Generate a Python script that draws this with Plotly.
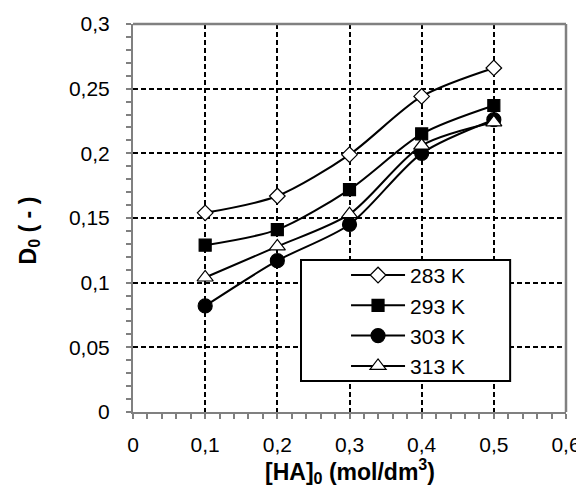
import plotly.graph_objects as go

ha0 = [0.1, 0.2, 0.3, 0.4, 0.5]
d_283 = [0.154, 0.167, 0.199, 0.244, 0.266]
d_293 = [0.129, 0.141, 0.172, 0.215, 0.237]
d_303 = [0.082, 0.117, 0.145, 0.200, 0.226]
d_313 = [0.104, 0.128, 0.153, 0.206, 0.224]

series = [
    ("283 K", d_283, "diamond", "white", 12),
    ("293 K", d_293, "square", "black", 12),
    ("303 K", d_303, "circle", "black", 14),
    ("313 K", d_313, "triangle-up", "white", 14),
]

FONT = "Liberation Sans, Arial, sans-serif"
GRAY = "#808080"

fig = go.Figure()
for name, vals, sym, fill, size in series:
    fig.add_trace(go.Scatter(
        x=ha0, y=vals, name=name, mode="lines+markers",
        line=dict(color="black", width=2, shape="spline", smoothing=0.8),
        marker=dict(symbol=sym, size=size, color=fill,
                    line=dict(color="black", width=1.2)),
    ))

axis_common = dict(
    showline=True, linecolor=GRAY, linewidth=2, mirror=False,
    automargin=False, ticklabeloverflow="allow",
    zeroline=False, showgrid=True, gridcolor="black", gridwidth=1.5,
    griddash="5px,3px", ticks="outside", ticklen=5, tickwidth=1.5,
    tickcolor=GRAY, tickfont=dict(family=FONT, size=21, color="black"),
)

fig.update_layout(
    width=576, height=483,
    margin=dict(l=125, r=18, t=16, b=79),
    paper_bgcolor="white", plot_bgcolor="white",
    separators=", ",
    font=dict(family=FONT, color="black"),
    xaxis=dict(range=[0, 0.6], dtick=0.1, tick0=0,
               minor=dict(dtick=0.02, ticks="outside", ticklen=5,
                          tickwidth=1.5, tickcolor=GRAY, showgrid=False),
               ticklabelstandoff=8, **axis_common),
    yaxis=dict(range=[0, 0.3], dtick=0.05, tick0=0,
               minor=dict(dtick=0.01, ticks="outside", ticklen=5,
                          tickwidth=1.5, tickcolor=GRAY, showgrid=False),
               ticklabelstandoff=12, **axis_common),
    annotations=[
        dict(text="<b>[HA]<sub>0</sub> (mol/dm<sup>3</sup>)</b>",
             xref="paper", yref="paper", x=0.501, y=0,
             xanchor="center", yanchor="middle", yshift=-59,
             showarrow=False, font=dict(family=FONT, size=23, color="black")),
        dict(text="<b>D<sub>0</sub> ( - )</b>",
             xref="paper", yref="paper", x=0, y=0.468, textangle=-90,
             xanchor="center", yanchor="middle", xshift=-104,
             showarrow=False, font=dict(family=FONT, size=23, color="black")),
    ],
    legend=dict(x=0.492, y=0.405, xanchor="left", yanchor="top",
                bgcolor="rgba(0,0,0,0)", borderwidth=0,
                font=dict(family=FONT, size=21, color="black"),
                itemwidth=54, tracegroupgap=0),
    shapes=[
        dict(type="rect", xref="paper", yref="paper",
             x0=0.388, x1=0.871, y0=0.080, y1=0.392,
             line=dict(color="black", width=2), fillcolor="white",
             layer="above"),
        dict(type="line", xref="paper", yref="paper",
             x0=0, x1=1, y0=1, y1=1, line=dict(color=GRAY, width=2.5),
             layer="above"),
        dict(type="line", xref="paper", yref="paper",
             x0=1, x1=1, y0=0, y1=1, line=dict(color=GRAY, width=2.5),
             layer="above"),
    ],
    showlegend=True,
)

fig.write_html("out.html")
